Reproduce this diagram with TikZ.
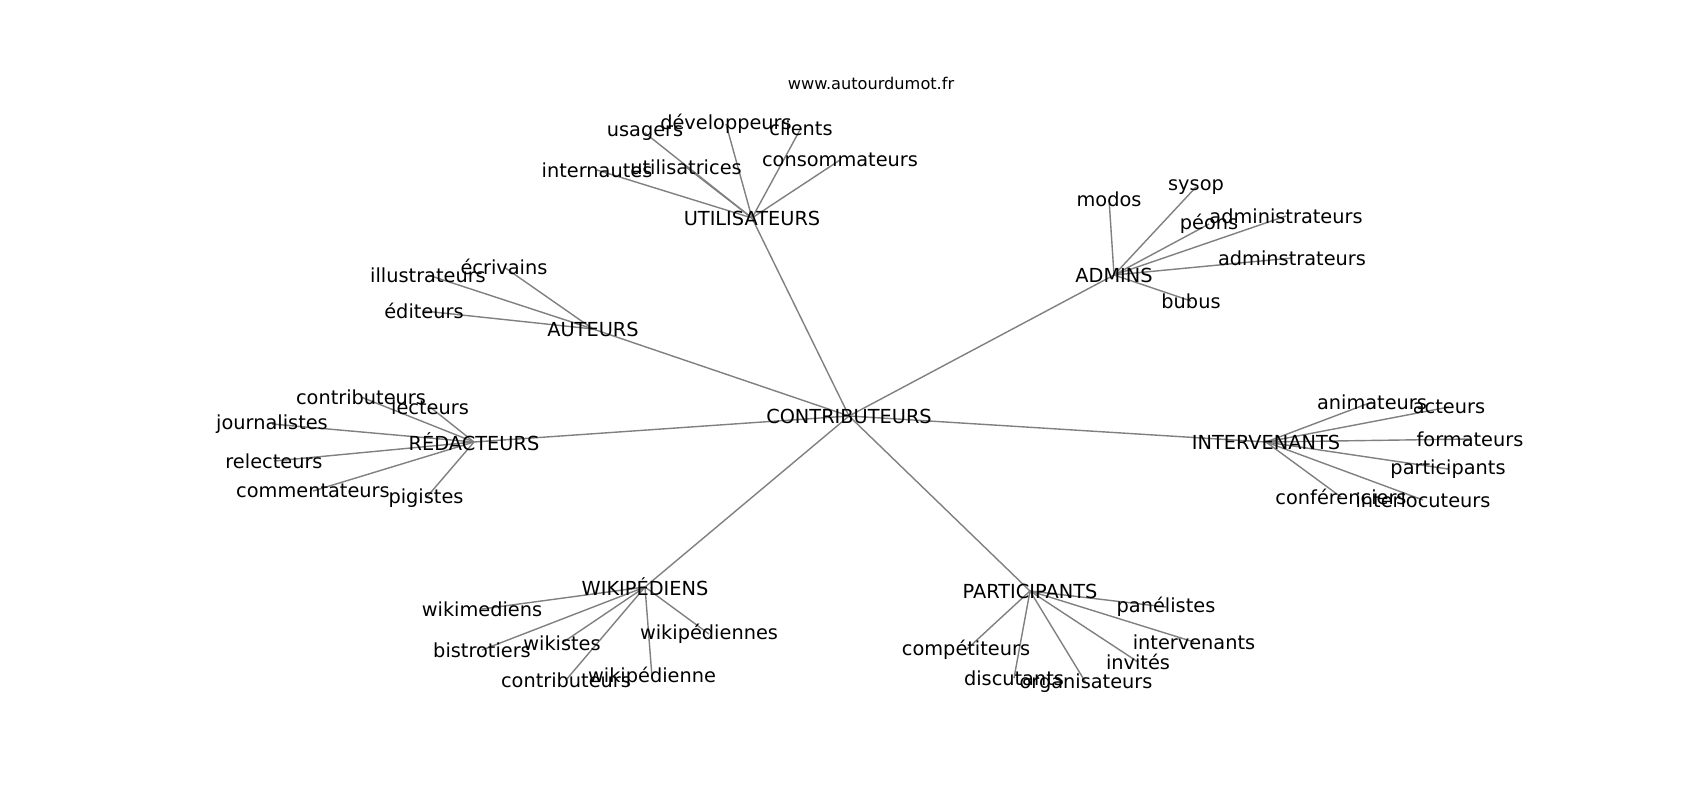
\documentclass[tikz,border=0pt]{standalone}
\usepackage{fontspec}
\setmainfont{DejaVu Sans}
\usetikzlibrary{backgrounds}

\begin{document}
\begin{tikzpicture}[x=0.01cm,y=-0.01cm,
  word/.style={inner sep=0pt, font=\fontsize{5.5}{6}\selectfont},
  link/.style={draw=black!50, line width=0.4pt}]
\useasboundingbox (0,0) rectangle (1700,800);

\node[inner sep=0pt, font=\fontsize{4.6}{5}\selectfont] (site) at (871,83) {www.autourdumot.fr};

% centre et groupes
\node[word] (contrib) at (849,416) {CONTRIBUTEURS};
\node[word] (util) at (752,218) {UTILISATEURS};
\node[word] (admins) at (1114,275) {ADMINS};
\node[word] (auteurs) at (593,329) {AUTEURS};
\node[word] (redac) at (474,442) {RÉDACTEURS};
\node[word] (interv) at (1266,442) {INTERVENANTS};
\node[word] (wiki) at (645,587) {WIKIPÉDIENS};
\node[word] (partic) at (1030,591) {PARTICIPANTS};

% UTILISATEURS
\node[word] (usagers) at (645,133) {usagers};
\node[word] (developpeurs) at (726,124) {développeurs};
\node[word] (clients) at (801,128) {clients};
\node[word] (internautes) at (597,170) {internautes};
\node[word] (utilisatrices) at (686,167) {utilisatrices};
\node[word] (consommateurs) at (840,160) {consommateurs};

% ADMINS
\node[word] (modos) at (1109,199) {modos};
\node[word] (sysop) at (1196,187) {sysop};
\node[word] (peons) at (1209,224) {péons};
\node[word] (administrateurs) at (1286,216) {administrateurs};
\node[word] (adminstrateurs) at (1292,258) {adminstrateurs};
\node[word] (bubus) at (1191,301) {bubus};

% AUTEURS
\node[word] (illustrateurs) at (428,275) {illustrateurs};
\node[word] (ecrivains) at (504,267) {écrivains};
\node[word] (editeurs) at (424,311) {éditeurs};

% RÉDACTEURS
\node[word] (contribR) at (361,397) {contributeurs};
\node[word] (lecteurs) at (430,407) {lecteurs};
\node[word] (journalistes) at (272,424) {journalistes};
\node[word] (relecteurs) at (274,461) {relecteurs};
\node[word] (commentateurs) at (313,491) {commentateurs};
\node[word] (pigistes) at (426,498) {pigistes};

% INTERVENANTS
\node[word] (animateurs) at (1372,402) {animateurs};
\node[word] (acteurs) at (1449,407) {acteurs};
\node[word] (formateurs) at (1470,439) {formateurs};
\node[word] (participants) at (1448,469) {participants};
\node[word] (conferenciers) at (1341,497) {conférenciers};
\node[word] (interlocuteurs) at (1423,500) {interlocuteurs};

% WIKIPÉDIENS
\node[word] (wikimediens) at (482,609) {wikimediens};
\node[word] (bistrotiers) at (482,650) {bistrotiers};
\node[word] (wikistes) at (562,643) {wikistes};
\node[word] (wikipediennes) at (709,634) {wikipédiennes};
\node[word] (contribW) at (566,680) {contributeurs};
\node[word] (wikipedienne) at (652,677) {wikipédienne};

% PARTICIPANTS
\node[word] (panelistes) at (1166,607) {panélistes};
\node[word] (intervenants) at (1194,642) {intervenants};
\node[word] (invites) at (1138,662) {invités};
\node[word] (organisateurs) at (1086,683) {organisateurs};
\node[word] (discutants) at (1014,678) {discutants};
\node[word] (competiteurs) at (966,650) {compétiteurs};

% liens
\begin{pgfonlayer}{background}
\foreach \g in {util,admins,auteurs,redac,interv,wiki,partic}
  \draw[link] (contrib.center) -- (\g.center);
\foreach \n in {usagers,developpeurs,clients,internautes,utilisatrices,consommateurs}
  \draw[link] (util.center) -- (\n.center);
\foreach \n in {modos,sysop,peons,administrateurs,adminstrateurs,bubus}
  \draw[link] (admins.center) -- (\n.center);
\foreach \n in {illustrateurs,ecrivains,editeurs}
  \draw[link] (auteurs.center) -- (\n.center);
\foreach \n in {contribR,lecteurs,journalistes,relecteurs,commentateurs,pigistes}
  \draw[link] (redac.center) -- (\n.center);
\foreach \n in {animateurs,acteurs,formateurs,participants,conferenciers,interlocuteurs}
  \draw[link] (interv.center) -- (\n.center);
\foreach \n in {wikimediens,bistrotiers,wikistes,wikipediennes,contribW,wikipedienne}
  \draw[link] (wiki.center) -- (\n.center);
\foreach \n in {panelistes,intervenants,invites,organisateurs,discutants,competiteurs}
  \draw[link] (partic.center) -- (\n.center);
\end{pgfonlayer}
\end{tikzpicture}
\end{document}
